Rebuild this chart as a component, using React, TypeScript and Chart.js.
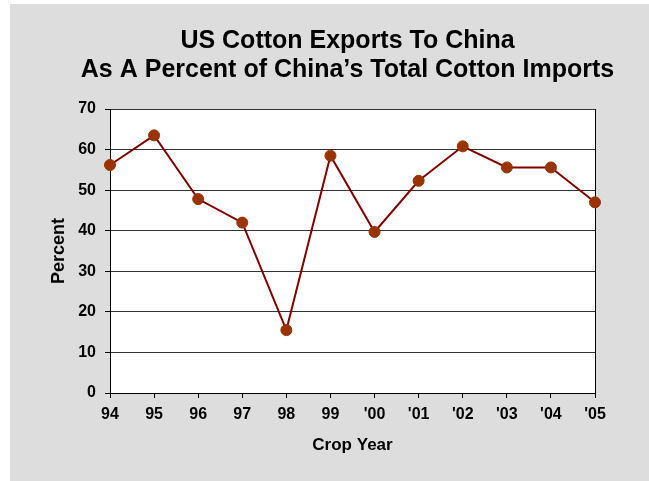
import React, { useEffect, useRef } from "react";
import { Chart, registerables } from "chart.js";

Chart.register(...registerables);

const categories = ["94", "95", "96", "97", "98", "99", "'00", "'01", "'02", "'03", "'04", "'05"];
const percentValues = [56.2, 63.5, 47.8, 42.0, 15.5, 58.5, 39.7, 52.3, 60.8, 55.6, 55.6, 47.0];
const titleLines = ["US Cotton Exports To China", "As A Percent of China\u2019s Total Cotton Imports"];
const yTitle = "Percent";
const xTitle = "Crop Year";

const FONT = "'Liberation Sans', Arial, sans-serif";

const plotBg = {
  id: "plotBg",
  beforeDraw(chart: any) {
    const { ctx, chartArea } = chart;
    ctx.save();
    ctx.fillStyle = "#ffffff";
    ctx.fillRect(chartArea.left, chartArea.top, chartArea.right - chartArea.left, chartArea.bottom - chartArea.top);
    ctx.restore();
  },
  beforeDatasetsDraw(chart: any) {
    const { ctx, chartArea } = chart;
    ctx.save();
    ctx.strokeStyle = "#000000";
    ctx.lineWidth = 1;
    ctx.beginPath();
    const x = Math.round(chartArea.right) + 0.5;
    ctx.moveTo(x, chartArea.top);
    ctx.lineTo(x, chartArea.bottom);
    ctx.stroke();
    ctx.restore();
  },
  afterDraw(chart: any) {
    const { ctx, chartArea } = chart;
    ctx.save();
    ctx.fillStyle = "#000000";
    ctx.font = `bold 25px ${FONT}`;
    ctx.textAlign = "center";
    ctx.textBaseline = "middle";
    const cx = (chartArea.left + chartArea.right) / 2 - 5;
    titleLines.forEach((line, i) => {
      ctx.fillText(line, cx, 37 + i * 29);
    });
    ctx.restore();
  },
};

export default function App() {
  const ref = useRef<HTMLCanvasElement | null>(null);
  useEffect(() => {
    if (!ref.current) return;
    const chart = new Chart(ref.current, {
      type: "line",
      data: {
        labels: categories,
        datasets: [
          {
            data: percentValues,
            borderColor: "#800000",
            borderWidth: 2,
            backgroundColor: "#993300",
            pointBackgroundColor: "#993300",
            pointBorderColor: "#993300",
            pointRadius: 5.5,
            pointBorderWidth: 1,
            tension: 0,
            fill: false,
          },
        ],
      },
      options: {
        responsive: false,
        animation: false,
        layout: { padding: { top: 105, left: 0, right: 54, bottom: 0 } },
        plugins: {
          legend: { display: false },
          tooltip: { enabled: false },
          title: { display: false },
        },
        scales: {
          x: {
            type: "category",
            offset: false,
            afterFit: (s: any) => {
              s.height = 88;
            },
            grid: {
              drawOnChartArea: false,
              drawTicks: true,
              tickLength: 5,
              tickColor: "#000000",
            },
            border: { display: true, color: "#000000", width: 1 },
            ticks: {
              color: "#000000",
              padding: 7,
              maxRotation: 0,
              autoSkip: false,
              font: { family: FONT, size: 16, weight: "bold" },
            },
            title: {
              display: true,
              text: xTitle,
              color: "#000000",
              font: { family: FONT, size: 17, weight: "bold", lineHeight: 1.2 },
              padding: { top: 0, bottom: 25 },
            },
          },
          y: {
            min: 0,
            max: 70,
            afterFit: (s: any) => {
              s.width = 100;
            },
            grid: {
              color: "#333333",
              lineWidth: 1,
              drawTicks: true,
              tickLength: 5,
              tickColor: "#000000",
            },
            border: { display: true, color: "#000000", width: 1 },
            ticks: {
              stepSize: 10,
              color: "#000000",
              padding: 9,
              font: { family: FONT, size: 16, weight: "bold" },
            },
            title: {
              display: true,
              text: yTitle,
              color: "#000000",
              font: { family: FONT, size: 18, weight: "bold", lineHeight: 1.2 },
              padding: { top: 38, bottom: 0 },
            },
          },
        },
      },
      plugins: [plotBg],
    });
    return () => chart.destroy();
  }, []);

  return (
    <div style={{ position: "absolute", left: 0, top: 0, width: 649, height: 481, background: "#ffffff" }}>
      <div style={{ position: "absolute", left: 10, top: 4, width: 639, height: 477, background: "#dddddd" }}>
        <canvas ref={ref} width={639} height={477} style={{ display: "block", width: 639, height: 477 }} />
      </div>
    </div>
  );
}
